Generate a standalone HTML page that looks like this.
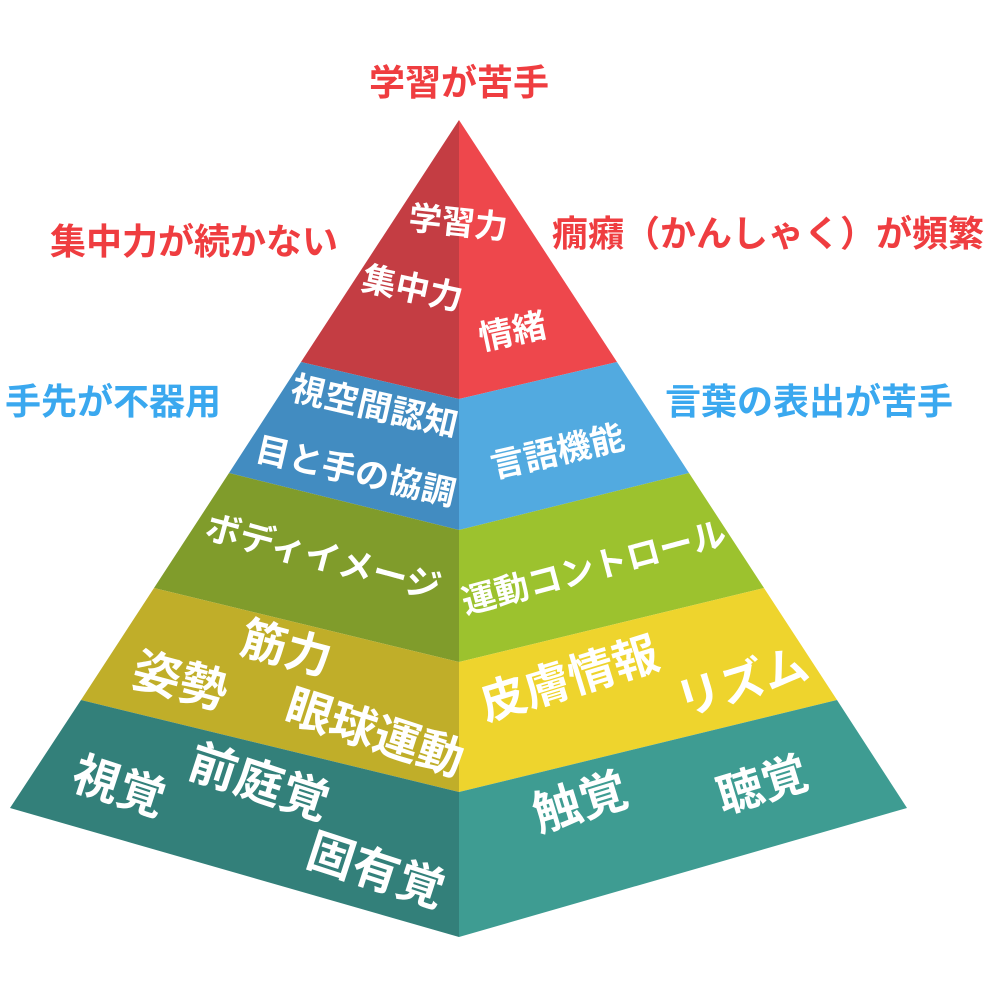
<!DOCTYPE html>
<html><head><meta charset="utf-8"><style>
html,body{margin:0;padding:0;background:#fff;width:1000px;height:1000px;overflow:hidden}
text{font-family:"Liberation Sans","Noto Sans CJK JP",sans-serif;font-weight:bold}
.w{fill:#fff}
</style></head><body>
<svg width="1000" height="1000" viewBox="0 0 1000 1000" xmlns="http://www.w3.org/2000/svg">
<polygon points="459,120 301,362 459,399" fill="#c43d43"/>
<polygon points="301,362 459,399 459,530 229,473" fill="#428cc1"/>
<polygon points="229,473 459,530 459,662 154,588" fill="#809c2b"/>
<polygon points="154,588 459,662 459,792 81,700" fill="#c0ae29"/>
<polygon points="81,700 459,792 459,937 10,808" fill="#33807a"/>
<polygon points="459,120 617,362 459,399" fill="#ee474c"/>
<polygon points="617,362 459,399 459,530 689,473" fill="#52aae0"/>
<polygon points="689,473 459,530 459,662 764,588" fill="#9cc22e"/>
<polygon points="764,588 459,662 459,792 837,700" fill="#eed42d"/>
<polygon points="837,700 459,792 459,937 907,808" fill="#3e9c92"/>

<g font-size="36" fill="#ef3d40">
<text x="459" y="95" text-anchor="middle">学習が苦手</text>
<text x="50" y="254">集中力が続かない</text>
<text x="552" y="246">癇癪（かんしゃく）が頻繁</text>
</g>
<g font-size="36" fill="#3aa8ef">
<text x="5" y="414">手先が不器用</text>
<text x="665" y="414">言葉の表出が苦手</text>
</g>

<g class="w" text-anchor="middle">
<text font-size="33" transform="translate(457,234) rotate(6)">学習力</text>
<text font-size="34" transform="translate(410,300) rotate(12)">集中力</text>
<text font-size="34" transform="translate(515,343) rotate(-12)">情緒</text>
<text font-size="34" transform="translate(372,418) rotate(13)">視空間認知</text>
<text font-size="34" transform="translate(353,483) rotate(13)">目と手の協調</text>
<text font-size="34" transform="translate(560,463) rotate(-13)">言語機能</text>
<text font-size="35" transform="translate(320,569) rotate(15)">ボディイメージ</text>
<text font-size="34" transform="translate(597,579) rotate(-15)">運動コントロール</text>
<text font-size="46" transform="translate(282,664) rotate(15)">筋力</text>
<text font-size="48" transform="translate(176,697) rotate(15)">姿勢</text>
<text font-size="46" transform="translate(370,748) rotate(18)">眼球運動</text>
<text font-size="46" transform="translate(574,694) rotate(-17)">皮膚情報</text>
<text font-size="45" transform="translate(747,697) rotate(-17)">リズム</text>
<text font-size="47" transform="translate(114,802) rotate(18)">視覚</text>
<text font-size="48" transform="translate(254,798) rotate(18)">前庭覚</text>
<text font-size="47" transform="translate(371,886) rotate(18)">固有覚</text>
<text font-size="48" transform="translate(585,818) rotate(-17)">触覚</text>
<text font-size="46" transform="translate(767,800) rotate(-17)">聴覚</text>
</g>
</svg>
</body></html>
